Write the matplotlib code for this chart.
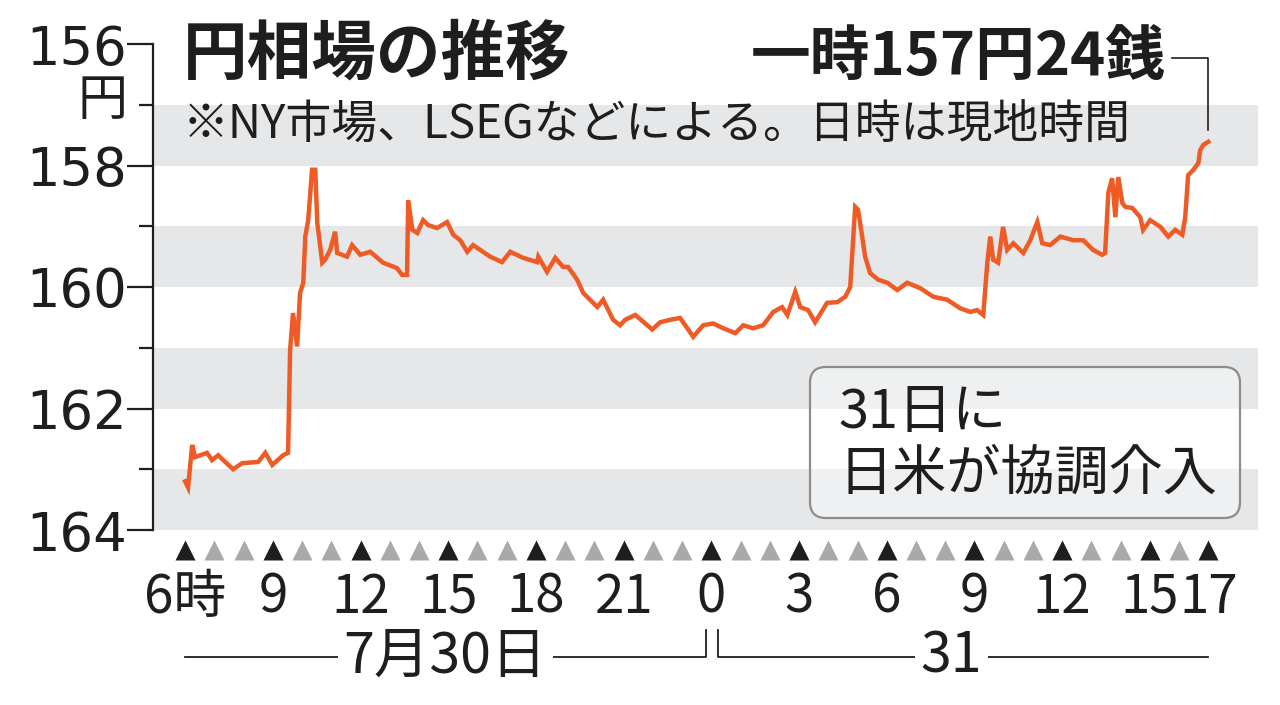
import numpy as np
import matplotlib
matplotlib.use("Agg")
import matplotlib.pyplot as plt
import matplotlib.transforms as mtrans
from matplotlib.patches import FancyBboxPatch

plt.rcParams['font.family'] = ['Noto Sans CJK JP', 'DejaVu Sans']

# hours elapsed since 30 July 06:00 (local NY time)
hours = [0.00, 0.10, 0.24, 0.34, 0.75, 0.92, 1.13, 1.37, 1.64, 1.95, 2.50, 2.74, 2.98, 3.35, 3.52,
         3.59, 3.69, 3.83, 3.93, 4.04, 4.11, 4.21, 4.34, 4.45, 4.52, 4.55, 4.69, 4.79, 4.96, 5.13,
         5.20, 5.54, 5.71, 5.99, 6.33, 6.77, 7.25, 7.42, 7.59, 7.63, 7.77, 7.94, 8.14, 8.31, 8.62,
         8.96, 9.17, 9.41, 9.65, 9.85, 10.43, 10.84, 11.12, 11.56, 12.04, 12.08, 12.38, 12.66, 12.93,
         13.10, 13.41, 13.62, 14.10, 14.30, 14.64, 14.88, 15.05, 15.40, 15.98, 16.25, 16.59, 16.93,
         17.21, 17.38, 17.72, 18.06, 18.41, 18.82, 19.09, 19.43, 19.77, 20.12, 20.42, 20.60, 20.87,
         21.04, 21.31, 21.55, 21.96, 22.31, 22.58, 22.75, 22.92, 23.02, 23.16, 23.26, 23.43, 23.71,
         24.02, 24.36, 24.70, 25.15, 25.59, 26.07, 26.51, 26.86, 27.09, 27.30, 27.44, 27.54, 27.64,
         27.81, 27.98, 28.12, 28.33, 28.67, 28.91, 29.15, 29.32, 29.59, 29.94, 30.38, 30.72, 31.06,
         31.37, 31.47, 31.58, 31.71, 31.82, 31.92, 32.06, 32.16, 32.40, 32.67, 32.77, 33.01, 33.36,
         33.63, 33.87, 34.11, 34.21, 34.31, 34.49, 34.66, 34.72, 34.83, 35.00]
yen = [163.20, 163.30, 162.60, 162.80, 162.73, 162.85, 162.77, 162.88, 163.00, 162.90, 162.88, 162.73,
       162.93, 162.77, 162.73, 161.04, 160.43, 160.98, 160.10, 159.93, 159.17, 158.90, 158.07, 158.07,
       158.95, 159.06, 159.60, 159.55, 159.39, 159.09, 159.44, 159.50, 159.31, 159.47, 159.42, 159.60,
       159.69, 159.80, 159.80, 158.57, 159.06, 159.11, 158.90, 158.98, 159.03, 158.93, 159.14, 159.23,
       159.42, 159.31, 159.50, 159.59, 159.42, 159.52, 159.59, 159.50, 159.75, 159.52, 159.67, 159.67,
       159.88, 160.10, 160.33, 160.21, 160.54, 160.63, 160.54, 160.46, 160.70, 160.58, 160.54, 160.51,
       160.70, 160.82, 160.63, 160.60, 160.68, 160.76, 160.63, 160.68, 160.63, 160.41, 160.33, 160.46,
       160.08, 160.33, 160.38, 160.58, 160.26, 160.25, 160.16, 160.00, 158.68, 158.73, 159.17, 159.50,
       159.77, 159.88, 159.93, 160.05, 159.93, 160.02, 160.16, 160.21, 160.35, 160.41, 160.38, 160.46,
       159.60, 159.17, 159.55, 159.60, 159.01, 159.39, 159.28, 159.44, 159.23, 158.93, 159.28, 159.31,
       159.17, 159.23, 159.23, 159.39, 159.47, 159.44, 158.45, 158.21, 158.85, 158.19, 158.62, 158.68,
       158.70, 158.85, 159.06, 158.90, 159.01, 159.17, 159.06, 159.14, 158.85, 158.16, 158.07, 157.96,
       157.75, 157.66, 157.61]

ytick_vals = [156, 158, 160, 162, 164]
ytick_labels = ['156', '158', '160', '162', '164']
xtick_hours = [0, 3, 6, 9, 12, 15, 18, 21, 24, 27, 30, 33, 35]
xtick_labels = ['6時', '9', '12', '15', '18', '21', '0', '3', '6', '9', '12', '15', '17']
day_change = 18  # midnight 31 July

title = '円相場の推移'
subtitle = '※NY市場、LSEGなどによる。日時は現地時間'
peak_note = '一時157円24銭'
box_note = '31日に\n日米が協調介入'

LINE = '#F05A24'
BAND = '#E6E7E9'
INK = '#1E1E1E'

fig = plt.figure(figsize=(12.8, 7.05), dpi=100)
ax = fig.add_axes([153/1280, 1-530/705, (1258-153)/1280, (530-44)/705])
ax.set_ylim(164, 156)
ax.set_xlim(-1.1, 36.7)

for lo in [157, 159, 161, 163]:
    ax.axhspan(lo, lo+1, color=BAND, lw=0, zorder=0)

ax.plot(hours, yen, color=LINE, lw=3.2, zorder=3, solid_joinstyle='miter')

for s in ['top', 'right', 'bottom']:
    ax.spines[s].set_visible(False)
ax.spines['left'].set_linewidth(1.6)
ax.spines['left'].set_color(INK)
ax.set_xticks([])
ax.set_yticks(ytick_vals)
ax.set_yticklabels(ytick_labels, fontfamily=['DejaVu Sans'])
ax.set_yticks([157, 159, 161, 163], minor=True)
ax.tick_params(axis='y', which='major', length=19, width=1.6, color=INK, labelsize=38,
               pad=0, labelcolor=INK)
ax.tick_params(axis='y', which='minor', length=10, width=1.6, color=INK)

# unit label
fig.text(128/1280, 1-101/705, '円', ha='right', va='center', fontsize=36, color=INK)

# hour markers
bt = mtrans.blended_transform_factory(ax.transData, ax.transAxes)
all_hours = list(range(0, 36))
gray_hours = [h for h in all_hours if h not in xtick_hours]
ax.plot(xtick_hours, [-0.041]*len(xtick_hours), ls='none', marker='^', ms=15, color=INK,
        mec='none', transform=bt, clip_on=False)
ax.plot(gray_hours, [-0.041]*len(gray_hours), ls='none', marker='^', ms=15, color='#A9A9A9',
        mec='none', transform=bt, clip_on=False)
for h, lab in zip(xtick_hours, xtick_labels):
    ax.text(h, -0.138, lab, transform=bt, ha='center', va='center', fontsize=38, color=INK)

# date brackets
yb, yt = -0.261, -0.206
ax.plot([hours[0], day_change - 0.2, day_change - 0.2], [yb, yb, yt], color=INK, lw=1.3,
        transform=bt, clip_on=False)
ax.plot([day_change + 0.23, day_change + 0.23, hours[-1]], [yt, yb, yb], color=INK, lw=1.3,
        transform=bt, clip_on=False)
ax.text((hours[0] + day_change - 0.2) / 2, yb, '7月30日', transform=bt, ha='center', va='center',
        fontsize=40, color=INK, bbox=dict(fc='white', ec='none', pad=4))
ax.text((day_change + 0.23 + hours[-1]) / 2 - 0.4, yb, '31', transform=bt, ha='center',
        va='center', fontsize=40, color=INK, bbox=dict(fc='white', ec='none', pad=4))

# titles
fig.text(183/1280, 1-55/705, title, ha='left', va='center', fontsize=46.5, fontweight='bold',
         color=INK)
fig.text(183/1280, 1-125/705, subtitle, ha='left', va='center', fontsize=33, color=INK)

# peak annotation
ax.text(hours[-1] - 1.45, 156.23, peak_note, ha='right', va='center', fontsize=43,
        fontweight='bold', color=INK, clip_on=False)
ax.plot([hours[-1] - 1.25, hours[-1], hours[-1]], [156.23, 156.23, yen[-1] - 0.2], color=INK,
        lw=1.2, clip_on=False, zorder=4)

# intervention box
box = FancyBboxPatch((8.10, (705-518)/100), 4.30, 1.51,
                     boxstyle='round,pad=0,rounding_size=0.16', transform=fig.dpi_scale_trans,
                     fc=(1, 1, 1, 0.4), ec='#8C8C8C', lw=1.6, zorder=5)
fig.patches.append(box)
fig.text(838/1280, 1-443/705, box_note, ha='left', va='center', fontsize=39, color=INK,
         linespacing=1.15, zorder=6)

fig.savefig('out.png', dpi=100)
